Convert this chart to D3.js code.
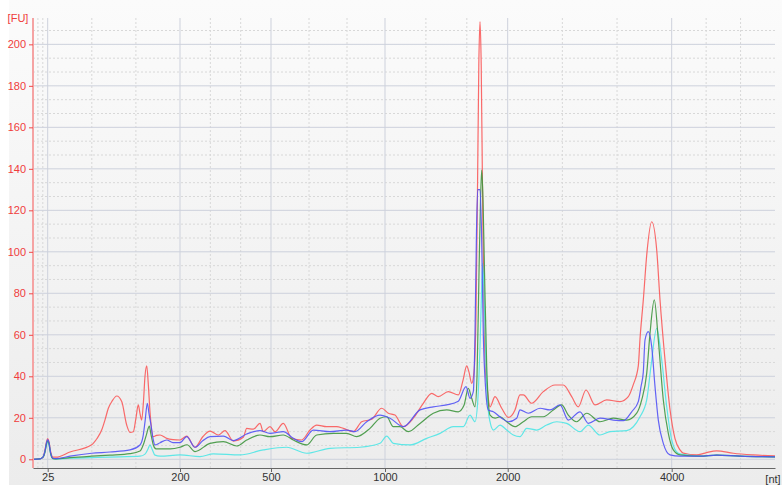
<!DOCTYPE html>
<html>
<head>
<meta charset="utf-8">
<script src="https://cdn.jsdelivr.net/npm/d3@7"></script>
<style>
  body { margin: 0; background: #fff; }
  text { font-family: "Liberation Sans", Arial, sans-serif; }
</style>
</head>
<body>
<svg id="chart" width="782" height="485"></svg>
<script>
// ladder sizes shown on the x axis (nt) and FU ticks
var ladderSizes = [25, 200, 500, 1000, 2000, 4000];
var yTicks = [0, 20, 40, 60, 80, 100, 120, 140, 160, 180, 200];

// sample traces: size in nt, fluorescence in FU
var redSizes = [5, 14.5, 18.6, 21.3, 23.4, 25, 26.7, 28.7, 32, 36, 54.5, 83.2, 90.2, 96.4, 100.8, 105.2, 110.1, 116.3, 122.9, 129.5, 133.9, 138.2, 141.8, 144.8, 147.1, 149.3, 151.7, 153.7, 156, 158.1, 160.3, 164.7, 168.9, 173.6, 182.4, 190.7, 200, 222.1, 249.5, 275.8, 298.9, 326.3, 348.4, 375.7, 408.7, 419.9, 441.6, 463.7, 474.6, 496.7, 517.5, 553.9, 590.8, 634.7, 671.1, 700.4, 744.3, 788.2, 817.1, 861, 897.8, 941.6, 985.5, 1026.9, 1081.5, 1149.1, 1230.6, 1312.1, 1380.6, 1434.4, 1515.9, 1597.4, 1635.7, 1665.9, 1684.6, 1706.6, 1725.4, 1741.7, 1753.9, 1764.6, 1774.4, 1784.1, 1794.7, 1807, 1819.2, 1829, 1855.9, 1896.7, 1951.1, 2007.3, 2089, 2150, 2190.2, 2292.7, 2434.1, 2576.8, 2678.1, 2780.5, 2861, 2954.9, 3064.6, 3207.3, 3369.5, 3470.7, 3531.7, 3592.7, 3613.5, 3653.7, 3698.9, 3756.2, 3817.2, 3857.5, 3918.5, 3979.3, 4063.9, 4160.7, 4224.6, 4484, 4644.7, 4871.2, 5192.6, 5579.8, 6000];
var redFU = [0, 0.2, 1, 4.5, 8.5, 10, 8.5, 4, 1, 1, 3.5, 7, 10, 14.1, 19, 24.6, 28, 30.5, 27.8, 16.5, 13, 13.3, 20, 26.2, 22, 18.9, 28, 40, 45, 36, 23, 10.9, 11.5, 11.7, 10.1, 9.5, 9.3, 11.2, 5.8, 11, 13.6, 11.7, 13.8, 8.8, 10.6, 14.9, 14.5, 17.3, 13.3, 15.7, 13.3, 17.3, 10.1, 9.3, 14.1, 16.5, 15.7, 15.7, 14.9, 13.3, 18.1, 19.3, 24.6, 22.2, 21.3, 15.7, 19.8, 27, 31.8, 30.2, 32.6, 31, 38, 45, 42, 36.6, 42, 70, 130, 190, 211, 190, 130, 70, 42, 36.6, 25.3, 30.2, 24.6, 20.2, 23.8, 31, 31, 27, 32.6, 35.8, 35.8, 30.2, 25.3, 33.4, 26.2, 28.6, 27.8, 30.2, 36, 45, 58, 76.8, 100, 114.5, 100.9, 76.8, 47.9, 24, 10, 4.5, 3, 2.1, 3, 4.1, 2.9, 2.1, 1.6];

var blueSizes = [5, 14.5, 18.6, 21.3, 23.4, 25, 26.7, 28.7, 32, 36, 54.5, 83.2, 107.4, 133.9, 147.1, 151.1, 153.7, 156.8, 159, 161.2, 164.3, 166.9, 173.6, 182.4, 190.7, 200, 222.1, 249.5, 275.8, 298.9, 342.7, 375.7, 419.9, 463.7, 496.7, 553.9, 597.8, 634.7, 685.5, 758.8, 832, 868.4, 919.7, 978.1, 1040.8, 1149.1, 1285.3, 1393.6, 1502.9, 1597.4, 1660.2, 1692.8, 1719.7, 1733.5, 1745.8, 1755.6, 1774.4, 1786.6, 1801.3, 1819.2, 1842.1, 1882.8, 1951.1, 2007.3, 2109.8, 2150, 2251.2, 2393.9, 2515.8, 2637.8, 2739, 2881.7, 2982.9, 3125.6, 3287.8, 3409.7, 3512.2, 3592.7, 3625.7, 3653.7, 3674.5, 3714.7, 3756.2, 3796.5, 3836.7, 3897.7, 3979.3, 4160.7, 4547.9, 4871.2, 5322.3, 6000];
var blueFU = [0, 0.2, 1, 4, 8, 9.5, 8, 3.5, 0.5, 0.3, 1.5, 2.9, 3.5, 4.5, 6.9, 11, 18, 27, 22, 17.5, 10, 6.9, 8, 9.3, 8, 8, 10.9, 5.8, 9, 10.9, 11.2, 9, 12.2, 13.8, 12.5, 13.3, 10.1, 8.5, 14.1, 13.3, 14.1, 13.3, 18.1, 21.3, 19.8, 15.7, 23.8, 25.3, 26.2, 28, 35, 29.4, 32.6, 60, 110, 130, 130, 110, 60, 35, 23.8, 22.9, 19.8, 18.1, 19.8, 23.8, 22.2, 24.6, 23.8, 26.2, 18.9, 22.9, 17.3, 19.8, 18.9, 18.6, 22.9, 27.8, 35, 42, 57.5, 61.5, 54.3, 35, 18.9, 7.7, 2.1, 1.5, 1.5, 2, 1.5, 1.2];

var greenSizes = [5, 14.5, 18.6, 21.3, 23.4, 25, 26.7, 28.7, 32, 36, 54.5, 83.2, 107.4, 133.9, 147.1, 152.4, 155.7, 159.4, 161.6, 164.7, 168.3, 173.6, 186.8, 200, 223.1, 249.5, 298.9, 342.7, 386.9, 419.9, 463.7, 496.7, 553.9, 597.8, 656.6, 700.4, 773.2, 832, 875.9, 934.2, 978.1, 1013.9, 1067.6, 1122.3, 1189.9, 1285.3, 1393.6, 1502.9, 1597.4, 1643.9, 1678.9, 1706.6, 1733.5, 1749.9, 1766.2, 1778.4, 1788.2, 1798.8, 1811.1, 1829, 1839.6, 1855.9, 1896.7, 1937.5, 1991.9, 2089, 2190.2, 2292.7, 2434.1, 2556.1, 2658.5, 2739, 2841.5, 2963.4, 3125.6, 3287.8, 3451.2, 3573.2, 3634.2, 3695.2, 3735.5, 3787.9, 3836.7, 3897.7, 3958.7, 4031, 4160.7, 4547.9, 4871.2, 5322.3, 6000];
var greenFU = [0, 0.2, 1, 3.5, 7.5, 9, 7.5, 3, 0.3, 0.2, 0.8, 1.5, 2, 2.7, 4, 8, 12, 16, 12, 6.9, 5, 5, 5, 5.8, 7, 3.7, 7.7, 8.5, 6.4, 9.3, 11.7, 10.9, 11.7, 9.3, 6.9, 11.7, 12.5, 12.5, 10.9, 14.9, 19.8, 20.5, 15.7, 15.7, 13.3, 17.3, 22.2, 23.8, 22.9, 26, 34.2, 29.4, 25.3, 40, 90, 125, 139.4, 125, 90, 44.6, 30, 21.3, 19.8, 20.5, 18.1, 15.7, 18.1, 20.5, 20.5, 23.8, 26.2, 21.3, 18.1, 22.2, 18.1, 19.8, 18.9, 22.2, 28.6, 41.4, 60.7, 76.8, 57.5, 28.6, 12.5, 4.5, 2.1, 1.5, 2, 1.5, 1.2];

var cyanSizes = [5, 14.5, 18.6, 21.3, 23.4, 25, 26.7, 28.7, 32, 36, 54.5, 83.2, 120.6, 147.1, 153.7, 157.7, 160.3, 163, 166.9, 173.6, 200, 265.9, 309.8, 397.8, 474.6, 568.9, 656.6, 758.8, 890.3, 978.1, 1013.9, 1067.6, 1203.8, 1339.9, 1448.3, 1556.7, 1638.1, 1692.8, 1733.5, 1758, 1774.4, 1786.6, 1796.4, 1807, 1823.3, 1839.6, 1855.9, 1882.8, 1937.5, 1991.9, 2068.3, 2150, 2231.7, 2353.7, 2475.6, 2597.6, 2719.5, 2881.7, 2982.9, 3125.6, 3247.5, 3451.2, 3531.7, 3613.5, 3695.2, 3747.7, 3817.2, 3878.2, 3939.2, 4000, 4127.8, 4290.4, 4547.9, 4871.2, 5322.3, 6000];
var cyanFU = [0, 0.2, 1, 3.5, 7, 8.5, 7, 3, 0.3, 0.1, 0.5, 0.8, 1.2, 1.5, 2.5, 5, 6.9, 5, 2, 1.5, 2.1, 1.3, 2.6, 2.1, 4.5, 5.8, 2.9, 5.3, 5.8, 7.7, 11.2, 7.7, 6.9, 10.1, 12.5, 15.7, 15.7, 21.3, 18.1, 30, 55, 80, 94.5, 80, 45, 25, 18.1, 14.1, 16.5, 14.1, 11.7, 10.9, 14.9, 14.1, 16.5, 18.1, 17.3, 13.3, 16.5, 11.7, 13.3, 13.8, 15.7, 20.5, 28.6, 45, 63.1, 47.9, 25.3, 9.3, 2.9, 2.1, 1.5, 2, 1.5, 1.2];

var series = [
    { name: "red", sizes: redSizes, values: redFU, color: "#fa5a5a" },
    { name: "cyan", sizes: cyanSizes, values: cyanFU, color: "#4fe6e6" },
    { name: "green", sizes: greenSizes, values: greenFU, color: "#3f963f" },
    { name: "blue", sizes: blueSizes, values: blueFU, color: "#5252f5" }
];

var svg = d3.select("#chart");

// the x axis is stretched between ladder peaks, so a piecewise scale
var x = d3.scaleLinear()
    .domain([5, 25, 200, 500, 1000, 2000, 4000, 6000])
    .range([33, 47.7, 180, 271, 385, 507.7, 671.7, 775]);
var y = d3.scaleLinear().domain([-4.2, 212.7]).range([468, 18]);

var defs = svg.append("defs");
var grad = defs.append("linearGradient").attr("id", "bg")
    .attr("x1", 0).attr("y1", 0).attr("x2", 0).attr("y2", 1);
grad.append("stop").attr("offset", "0%").attr("stop-color", "#fbfbfb");
grad.append("stop").attr("offset", "100%").attr("stop-color", "#ececec");
defs.append("clipPath").attr("id", "plotclip").append("rect")
    .attr("x", 33).attr("y", 18).attr("width", 742).attr("height", 450);

svg.append("rect").attr("x", 9).attr("y", 0).attr("width", 773).attr("height", 485)
    .attr("fill", "url(#bg)");

// minor grid: thirds between ladder positions and between FU ticks
var xDomain = x.domain();
var xMinor = [];
for (var i = 0; i < xDomain.length - 1; i++) {
    var a = x(xDomain[i]), b = x(xDomain[i + 1]);
    xMinor.push(x.invert(a + (b - a) / 3), x.invert(a + 2 * (b - a) / 3));
}
var yMinor = [];
for (var v = 0; v <= 212; v += 20) {
    yMinor.push(v + 20 / 3, v + 40 / 3);
}

var grid = svg.append("g");
grid.selectAll(".xminor").data(xMinor).enter().append("line")
    .attr("x1", function (d) { return x(d); }).attr("x2", function (d) { return x(d); })
    .attr("y1", 18).attr("y2", 468)
    .attr("stroke", "#d8d8d8").attr("stroke-dasharray", "2,2");
grid.selectAll(".yminor").data(yMinor.filter(function (d) { return d < 212.7; })).enter().append("line")
    .attr("x1", 33).attr("x2", 775)
    .attr("y1", function (d) { return y(d); }).attr("y2", function (d) { return y(d); })
    .attr("stroke", "#d8d8d8").attr("stroke-dasharray", "2,2");
grid.selectAll(".xmajor").data(ladderSizes).enter().append("line")
    .attr("x1", function (d) { return x(d); }).attr("x2", function (d) { return x(d); })
    .attr("y1", 18).attr("y2", 468)
    .attr("stroke", "#cdd1dc");
grid.selectAll(".ymajor").data(yTicks).enter().append("line")
    .attr("x1", 33).attr("x2", 775)
    .attr("y1", function (d) { return y(d); }).attr("y2", function (d) { return y(d); })
    .attr("stroke", "#cdd1dc");

// traces
var line = d3.line().curve(d3.curveMonotoneX)
    .x(function (d) { return x(d[0]); })
    .y(function (d) { return y(d[1]); });

svg.append("g").attr("clip-path", "url(#plotclip)")
    .selectAll("path").data(series).enter().append("path")
    .attr("d", function (s) { return line(d3.zip(s.sizes, s.values)); })
    .attr("fill", "none")
    .attr("stroke", function (s) { return s.color; })
    .attr("stroke-width", 1.2)
    .attr("stroke-opacity", 0.9);

// x axis
var xAxis = svg.append("g").attr("transform", "translate(0,468)")
    .call(d3.axisBottom(x).tickValues(ladderSizes).tickSize(4).tickSizeOuter(0).tickFormat(d3.format("d")));
xAxis.select(".domain").attr("stroke", "#666");
xAxis.selectAll(".tick line").attr("stroke", "#666");
xAxis.selectAll("text").attr("fill", "#333").attr("font-size", "11px")
    .attr("font-family", "Liberation Sans, Arial, sans-serif").attr("dy", "0.55em");
svg.append("text").attr("x", 773).attr("y", 483).attr("text-anchor", "middle")
    .attr("font-size", "11px").attr("fill", "#333").text("[nt]");

// y axis
var yAxis = svg.append("g").attr("transform", "translate(33,0)")
    .call(d3.axisLeft(y).tickValues(yTicks).tickSize(4).tickSizeOuter(0));
yAxis.select(".domain").attr("stroke", "#f5a3a3").attr("stroke-width", 2)
    .attr("d", "M0,18V468");
yAxis.selectAll(".tick line").attr("stroke", "#f04848");
yAxis.selectAll("text").attr("fill", "#f03c3c").attr("font-size", "11px")
    .attr("font-family", "Liberation Sans, Arial, sans-serif");
svg.append("text").attr("x", 18).attr("y", 22).attr("text-anchor", "middle")
    .attr("font-size", "11px").attr("fill", "#f03c3c").text("[FU]");
</script>
</body>
</html>
